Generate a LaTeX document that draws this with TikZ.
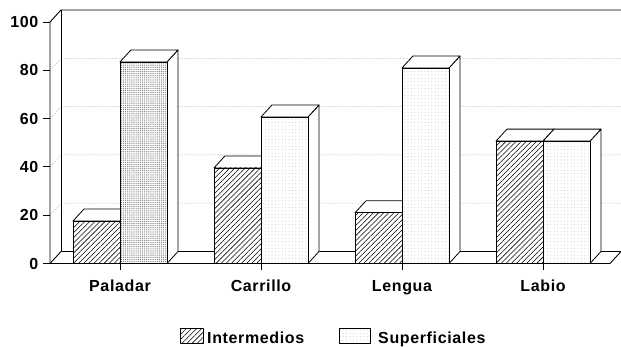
\documentclass[tikz,border=0pt]{standalone}
\usepackage{fontspec}
\newfontfamily\lab{Liberation Sans}[LetterSpace=4, Ligatures=NoCommon]
\usetikzlibrary{patterns.meta}

\newcommand{\drawbar}[3]{%
  \pgfmathsetmacro\yt{263.5-#2*2.414}%
  \pgfmathsetmacro\yb{\yt-12}%
  \pgfmathsetmacro\xr{#1+47}%
  \pgfmathsetmacro\xa{#1+11}%
  \pgfmathsetmacro\xb{#1+58}%
  \path[face] (\xr,\yt) -- (\xb,\yb) -- (\xb,251.5) -- (\xr,263.5) -- cycle;
  \path[face] (#1,\yt) -- (\xa,\yb) -- (\xb,\yb) -- (\xr,\yt) -- cycle;
  \path[barline,#3] (#1,263.5) rectangle (\xr,\yt);
}

\begin{document}
\begin{tikzpicture}[x=1pt,y=-1pt,
  line join=round,
  frame/.style={line width=0.9pt},
  gridline/.style={densely dotted, gray!75, line width=0.5pt},
  hatchfill/.style={preaction={fill=white}, pattern={Lines[angle=45,distance=3.6pt,line width=0.55pt]}, pattern color=black},
  densedots/.style={preaction={fill=white}, pattern={Dots[distance=1.9pt,radius=0.55pt]}, pattern color=black!55},
  lightdots/.style={preaction={fill=white}, pattern={Dots[distance=3.4pt,radius=0.35pt]}, pattern color=black!40},
  face/.style={fill=white, draw=black, line width=0.8pt},
  barline/.style={draw=black, line width=0.8pt},
  lbl/.style={font=\lab\bfseries\fontsize{16}{19}\selectfont, inner sep=0pt},
]
\useasboundingbox (0,0) rectangle (621,347);
\fill[white] (0,0) rectangle (621,347);

% back wall gridlines
\foreach \v in {20,40,60,80} {
  \pgfmathsetmacro\yf{263.5-\v*2.414}
  \pgfmathsetmacro\yb{\yf-12}
  \draw[gridline] (50,\yf) -- (61,\yb) -- (621,\yb);
}
% frame
\draw[frame] (50,263.5) -- (50,22) -- (61,10) -- (621,10);
\draw[frame] (61,10) -- (61,251.5) -- (621,251.5);
\draw[frame] (50,263.5) -- (61,251.5);
\draw[frame] (43,263.5) -- (610,263.5) -- (621,251.5);
% y ticks and labels
\foreach \v in {0,20,40,60,80,100} {
  \pgfmathsetmacro\yf{263.5-\v*2.414}
  \draw[frame] (43,\yf) -- (50,\yf);
  \node[lbl, anchor=east] (y\v) at (38.5,\yf) {\v};
}

% bars
\drawbar{73}{17.6}{hatchfill}
\drawbar{120}{83.5}{densedots}
\drawbar{214}{39.6}{hatchfill}
\drawbar{261}{60.7}{lightdots}
\drawbar{355}{21}{hatchfill}
\drawbar{402}{81}{lightdots}
\drawbar{496}{50.7}{hatchfill}
\drawbar{543}{50.7}{lightdots}

% category ticks and labels
\foreach \x/\n/\t in {120/pal/Paladar,261/car/Carrillo,402/len/Lengua,543/lab/Labio} {
  \draw[frame] (\x,263.5) -- (\x,270);
  \node[lbl, anchor=base] (\n) at (\x,291.5) {\t};
}

% legend
\path[barline,hatchfill] (180,328) rectangle (203,343);
\node[lbl, anchor=base west] (li) at (207,343) {Intermedios};
\path[barline,lightdots] (339,328) rectangle (370,343);
\node[lbl, anchor=base west] (ls) at (378,343) {Superficiales};
\end{tikzpicture}
\end{document}
